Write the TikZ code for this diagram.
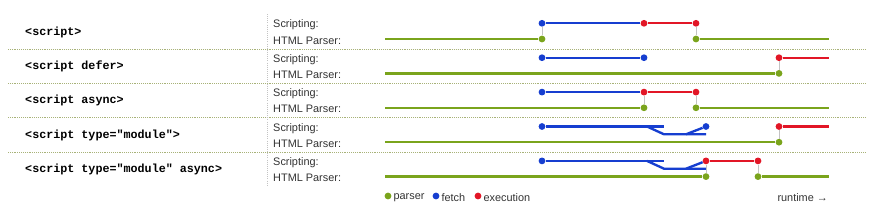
\documentclass[tikz,border=0pt]{standalone}
\usepackage{fontspec}
\setmainfont{Liberation Sans}
\newfontfamily\codefont{Liberation Mono}
\usetikzlibrary{positioning}
\definecolor{clrP}{RGB}{122,164,28}
\definecolor{clrF}{RGB}{22,62,208}
\definecolor{clrE}{RGB}{226,22,38}
\definecolor{clrS}{RGB}{168,178,120}
\definecolor{clrL}{RGB}{195,195,195}
\tikzset{
  tag/.style={anchor=west,inner sep=0pt,
    font=\codefont\bfseries\fontsize{10}{12}\selectfont},
  lane/.style={anchor=west,inner sep=0pt,text=black!80,
    font=\fontsize{9.3}{11}\selectfont},
  legend/.style={anchor=west,inner sep=0pt,text=black!80,
    font=\fontsize{9.3}{11}\selectfont},
  dot/.style={circle,inner sep=0pt,minimum size=5.8pt},
  dotP/.style={dot,fill=clrP},
  dotF/.style={dot,fill=clrF},
  dotE/.style={dot,fill=clrE},
  parser/.style={draw=clrP,line width=2pt},
  fetch/.style={draw=clrF,line width=2pt},
  exec/.style={draw=clrE,line width=2pt},
  link/.style={draw=clrL,line width=0.7pt},
  rowsep/.style={draw=clrS,densely dotted,line width=0.6pt},
  colsep/.style={draw=clrL,densely dotted,line width=0.8pt}
}
\begin{document}
\begin{tikzpicture}[x=0.03cm,y=-0.03cm]
  \useasboundingbox (0,0) rectangle (882,224);

  % dividers
  \foreach \y in {49,83,117.5,152}
    \draw[rowsep] (8,\y) -- (866,\y);
  \draw[colsep] (267,14) -- (267,186);

  % row labels
  \node[tag] (tag1) at (25,32) {<script>};
  \node[tag] (tag2) at (25,66.5) {<script defer>};
  \node[tag] (tag3) at (25,100.5) {<script async>};
  \node[tag] (tag4) at (25,135) {<script type="module">};
  \node[tag] (tag5) at (25,169.5) {<script type="module" async>};

  \foreach \s/\p [count=\i] in {25/40.5,59.4/74.9,93.8/109.3,128.2/143.7,162.6/178.1}{
    \node[lane] (sc\i) at (273,\s) {Scripting:};
    \node[lane] (hp\i) at (273,\p) {HTML Parser:};
  }

  % <script>
  \coordinate (p1s) at (385,39);
  \coordinate (p1e) at (829,39);
  \node[dotF] (f1a) at (542,23.3) {};
  \node[dotE] (e1a) at (644,23.3) {};
  \node[dotE] (e1b) at (696,23.3) {};
  \node[dotP] (p1a) at (542,39) {};
  \node[dotP] (p1b) at (696,39) {};
  \draw[parser] (p1s) -- (p1a);
  \draw[parser] (p1b) -- (p1e);
  \draw[fetch] (f1a) -- (e1a);
  \draw[exec] (e1a) -- (e1b);
  \draw[link] (f1a) -- (p1a);
  \draw[link] (e1b) -- (p1b);

  % <script defer>
  \coordinate (p2s) at (385,73.4);
  \coordinate (e2e) at (829,57.7);
  \node[dotF] (f2a) at (542,57.7) {};
  \node[dotF] (f2b) at (644,57.7) {};
  \node[dotE] (e2a) at (779,57.7) {};
  \node[dotP] (p2a) at (779,73.4) {};
  \draw[parser] (p2s) -- (p2a);
  \draw[fetch] (f2a) -- (f2b);
  \draw[exec] (e2a) -- (e2e);
  \draw[link] (e2a) -- (p2a);

  % <script async>
  \coordinate (p3s) at (385,107.8);
  \coordinate (p3e) at (829,107.8);
  \node[dotF] (f3a) at (542,92.1) {};
  \node[dotE] (e3a) at (644,92.1) {};
  \node[dotE] (e3b) at (696,92.1) {};
  \node[dotP] (p3a) at (644,107.8) {};
  \node[dotP] (p3b) at (696,107.8) {};
  \draw[parser] (p3s) -- (p3a);
  \draw[parser] (p3b) -- (p3e);
  \draw[fetch] (f3a) -- (e3a);
  \draw[exec] (e3a) -- (e3b);
  \draw[link] (e3a) -- (p3a);
  \draw[link] (e3b) -- (p3b);

  % <script type="module">
  \coordinate (p4s) at (385,142.2);
  \coordinate (e4e) at (829,126.5);
  \coordinate (k4a) at (664,126.5);
  \coordinate (k4b) at (647,126.5);
  \coordinate (k4c) at (664,134.3);
  \coordinate (k4d) at (706,134.3);
  \coordinate (k4e) at (686,134.3);
  \node[dotF] (f4a) at (542,126.5) {};
  \node[dotF] (f4b) at (706,126.5) {};
  \node[dotE] (e4a) at (779,126.5) {};
  \node[dotP] (p4a) at (779,142.2) {};
  \draw[parser] (p4s) -- (p4a);
  \draw[fetch] (f4a) -- (k4a);
  \draw[fetch] (k4b) -- (k4c) -- (k4d);
  \draw[fetch] (k4e) -- (f4b);
  \draw[exec] (e4a) -- (e4e);
  \draw[link] (e4a) -- (p4a);

  % <script type="module" async>
  \coordinate (p5s) at (385,176.6);
  \coordinate (p5e) at (829,176.6);
  \coordinate (k5a) at (664,160.9);
  \coordinate (k5b) at (647,160.9);
  \coordinate (k5c) at (664,168.7);
  \coordinate (k5d) at (706,168.7);
  \coordinate (k5e) at (686,168.7);
  \node[dotF] (f5a) at (542,160.9) {};
  \node[dotE] (e5a) at (706,160.9) {};
  \node[dotE] (e5b) at (758,160.9) {};
  \node[dotP] (p5a) at (706,176.6) {};
  \node[dotP] (p5b) at (758,176.6) {};
  \draw[parser] (p5s) -- (p5a);
  \draw[parser] (p5b) -- (p5e);
  \draw[fetch] (f5a) -- (k5a);
  \draw[fetch] (k5b) -- (k5c) -- (k5d);
  \draw[fetch] (k5e) -- (e5a);
  \draw[exec] (e5a) -- (e5b);
  \draw[link] (e5a) -- (p5a);
  \draw[link] (e5b) -- (p5b);

  % legend
  \node[dotP] (lgP) at (388,196) {};
  \node[legend,right=1.5pt of lgP,yshift=-1.5pt] (lgPt) {parser};
  \node[dotF] (lgF) at (436,196) {};
  \node[legend,right=1.5pt of lgF,yshift=-1.5pt] (lgFt) {fetch};
  \node[dotE] (lgE) at (478,196) {};
  \node[legend,right=1.5pt of lgE,yshift=-1.5pt] (lgEt) {execution};
  \node[legend,anchor=east] (rt) at (828,198) {runtime →};
\end{tikzpicture}
\end{document}
